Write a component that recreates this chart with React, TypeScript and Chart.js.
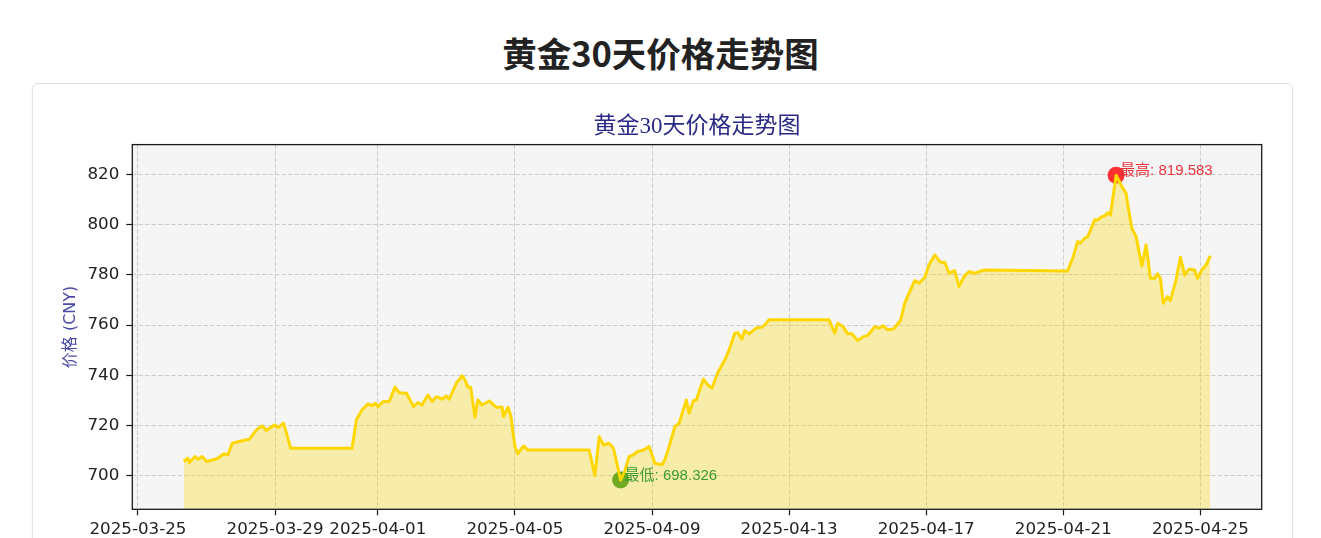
import React, { useEffect, useRef } from 'react';
import { Chart, registerables } from 'chart.js';

Chart.register(...registerables);

const YEAR = '2025';

// hourly samples (UTC)
const times = [
  '03-26 08:00', '03-26 11:00', '03-26 12:00', '03-26 16:00', '03-26 18:00', '03-26 21:00',
  '03-27 00:00', '03-27 05:00', '03-27 08:00', '03-27 12:00', '03-27 15:00', '03-27 18:00', '03-27 23:00',
  '03-28 03:00', '03-28 06:00', '03-28 11:00', '03-28 15:00', '03-28 18:00', '03-28 20:00',
  '03-29 00:00', '03-29 02:00', '03-29 06:00', '03-29 11:00',
  '03-31 06:00', '03-31 09:00', '03-31 13:00', '03-31 17:00', '03-31 20:00', '03-31 22:00',
  '04-01 00:00', '04-01 04:00', '04-01 08:00', '04-01 12:00', '04-01 15:00', '04-01 20:00',
  '04-02 01:00', '04-02 04:00', '04-02 07:00', '04-02 11:00', '04-02 14:00', '04-02 17:00', '04-02 21:00',
  '04-03 00:00', '04-03 02:00', '04-03 07:00', '04-03 11:00', '04-03 13:00', '04-03 15:00', '04-03 17:00',
  '04-03 20:00', '04-03 22:00',
  '04-04 01:00', '04-04 06:00', '04-04 11:00', '04-04 15:00', '04-04 16:00', '04-04 19:00', '04-04 21:00',
  '04-05 00:00', '04-05 02:00', '04-05 06:00', '04-05 09:00',
  '04-07 04:00', '04-07 08:00', '04-07 11:00', '04-07 14:00', '04-07 18:00', '04-07 21:00',
  '04-08 02:00', '04-08 05:00', '04-08 08:00', '04-08 11:00', '04-08 14:00', '04-08 18:00', '04-08 22:00',
  '04-09 02:00', '04-09 07:00', '04-09 09:00', '04-09 12:00', '04-09 16:00', '04-09 19:00',
  '04-10 00:00', '04-10 02:00', '04-10 05:00', '04-10 07:00', '04-10 12:00', '04-10 15:00', '04-10 18:00',
  '04-10 22:00',
  '04-11 03:00', '04-11 06:00', '04-11 10:00', '04-11 12:00', '04-11 15:00', '04-11 17:00', '04-11 20:00',
  '04-12 01:00', '04-12 05:00', '04-12 07:00', '04-12 10:00',
  '04-14 04:00', '04-14 08:00', '04-14 10:00', '04-14 14:00', '04-14 17:00', '04-14 20:00',
  '04-15 00:00', '04-15 04:00', '04-15 07:00', '04-15 12:00', '04-15 15:00', '04-15 18:00', '04-15 21:00',
  '04-16 01:00', '04-16 06:00', '04-16 09:00', '04-16 12:00', '04-16 16:00', '04-16 19:00', '04-16 23:00',
  '04-17 02:00', '04-17 06:00', '04-17 09:00', '04-17 11:00', '04-17 13:00', '04-17 16:00', '04-17 20:00',
  '04-17 23:00',
  '04-18 03:00', '04-18 06:00', '04-18 10:00', '04-18 13:00', '04-18 17:00',
  '04-21 03:00', '04-21 07:00', '04-21 10:00', '04-21 12:00', '04-21 15:00', '04-21 17:00', '04-21 22:00',
  '04-22 00:00', '04-22 03:00', '04-22 05:00', '04-22 07:00', '04-22 09:00', '04-22 13:00', '04-22 15:00',
  '04-22 17:00', '04-22 20:00', '04-22 21:00',
  '04-23 00:00', '04-23 03:00', '04-23 07:00', '04-23 10:00', '04-23 13:00', '04-23 16:00', '04-23 18:00',
  '04-23 20:00', '04-23 22:00',
  '04-24 01:00', '04-24 03:00', '04-24 07:00', '04-24 10:00', '04-24 13:00', '04-24 16:00', '04-24 20:00',
  '04-24 22:00',
  '04-25 01:00', '04-25 04:00', '04-25 07:00',
];

const prices = [
  705.7, 707.0, 705.3, 707.7, 706.6, 707.7,
  705.7, 706.4, 707.0, 708.7, 708.4, 713.0, 713.7,
  714.3, 714.6, 718.3, 719.9, 718.0, 719.0,
  720.3, 719.2, 721.0, 711.0,
  711.0, 722.3, 726.3, 728.6, 727.9, 728.9,
  727.6, 729.6, 729.6, 735.3, 733.1, 732.9,
  727.6, 729.2, 728.2, 732.2, 729.6, 731.5, 730.5,
  731.8, 730.5, 736.9, 739.8, 738.2, 735.3, 735.3,
  723.3, 730.2,
  728.2, 729.8, 727.3, 727.3, 723.6, 727.3, 724.3,
  711.7, 708.8, 711.9, 710.3,
  710.3, 700.1, 715.6, 712.3, 713.0, 711.0,
  698.326, 702.1, 707.7, 708.4, 709.7, 710.3, 711.7,
  705.0, 704.4, 706.4, 711.7, 719.6, 721.0,
  730.2, 724.9, 729.9, 730.2, 738.5, 736.2, 734.9,
  741.0,
  746.1, 750.1, 756.8, 757.0, 754.4, 757.8, 756.5,
  758.8, 759.2, 760.1, 762.1,
  762.1, 756.8, 760.7, 759.2, 756.5, 756.5,
  753.8, 755.4, 755.8, 759.4, 758.8, 759.7, 758.1,
  758.4, 761.8, 768.7, 772.7, 777.7, 776.6, 779.0,
  783.9, 787.9, 785.6, 784.8, 785.0, 780.6, 781.7,
  775.3,
  779.8, 781.3, 780.6, 781.3, 781.9,
  781.5, 787.2, 793.2, 792.6, 794.6, 795.0, 801.8,
  801.8, 803.1, 803.4, 804.7, 803.8, 819.583, 817.4,
  815.1, 812.4, 808.5,
  798.5, 795.2, 783.5, 791.9, 778.6, 778.6, 780.4,
  778.6, 768.7,
  771.3, 769.7, 778.0, 787.0, 780.0, 782.2, 781.9,
  778.6,
  781.9, 783.9, 787.5,
];

const tickDates = [
  '2025-03-25', '2025-03-29', '2025-04-01', '2025-04-05', '2025-04-09',
  '2025-04-13', '2025-04-17', '2025-04-21', '2025-04-25',
];
const yTicks = [700, 720, 740, 760, 780, 800, 820];
const Y_MIN = 686.7;
const Y_MAX = 831.8;

const toMs = (t: string) => Date.parse(`${YEAR}-${t.replace(' ', 'T')}:00Z`);

const TICK_FONT = { family: '"DejaVu Sans", sans-serif', size: 16.7 };

// plot background, min / max markers and the axes frame
const decorPlugin = {
  id: 'decor',
  beforeDraw(chart: any) {
    const { ctx, chartArea: a } = chart;
    ctx.save();
    ctx.fillStyle = '#f5f5f5';
    ctx.fillRect(a.left, a.top, a.right - a.left, a.bottom - a.top);
    ctx.restore();
  },
  beforeDatasetsDraw(chart: any) {
    const { ctx, scales } = chart;
    const hi = prices.indexOf(Math.max(...prices));
    const lo = prices.indexOf(Math.min(...prices));
    const marks = [
      { i: hi, color: 'rgba(255,0,0,0.8)' },
      { i: lo, color: 'rgba(0,128,0,0.8)' },
    ];
    ctx.save();
    marks.forEach(({ i, color }) => {
      const px = scales.x.getPixelForValue(toMs(times[i]));
      const py = scales.y.getPixelForValue(prices[i]);
      ctx.beginPath();
      ctx.arc(px, py, 8.5, 0, Math.PI * 2);
      ctx.fillStyle = color;
      ctx.fill();
    });
    ctx.restore();
  },
  afterDatasetsDraw(chart: any) {
    const { ctx, scales } = chart;
    const hi = prices.indexOf(Math.max(...prices));
    const lo = prices.indexOf(Math.min(...prices));
    const notes = [
      { i: hi, text: `最高: ${prices[hi].toFixed(3)}`, color: '#e8333b' },
      { i: lo, text: `最低: ${prices[lo].toFixed(3)}`, color: '#3d9a2f' },
    ];
    ctx.save();
    ctx.font = '15px "Liberation Sans", "Noto Sans CJK SC", sans-serif';
    ctx.textAlign = 'left';
    ctx.textBaseline = 'alphabetic';
    notes.forEach(({ i, text, color }) => {
      const px = scales.x.getPixelForValue(toMs(times[i]));
      const py = scales.y.getPixelForValue(prices[i]);
      ctx.fillStyle = color;
      ctx.fillText(text, px + 4, py);
    });
    ctx.restore();
  },
  afterDraw(chart: any) {
    const { ctx, chartArea: a } = chart;
    ctx.save();
    ctx.strokeStyle = '#1a1a1a';
    ctx.lineWidth = 1.3;
    ctx.strokeRect(a.left, a.top, a.right - a.left, a.bottom - a.top);
    ctx.restore();
  },
};

const GoldChart: React.FC = () => {
  const canvasRef = useRef<HTMLCanvasElement>(null);

  useEffect(() => {
    if (!canvasRef.current) return;
    const xs = times.map(toMs);
    const span = xs[xs.length - 1] - xs[0];

    const chart = new Chart(canvasRef.current, {
      type: 'line',
      data: {
        datasets: [{
          label: '价格',
          data: xs.map((x, i) => ({ x, y: prices[i] })),
          borderColor: '#FFD700',
          borderWidth: 3,
          borderJoinStyle: 'round',
          backgroundColor: 'rgba(255,215,0,0.3)',
          fill: 'start',
          pointRadius: 0,
          tension: 0,
        }],
      },
      options: {
        animation: false,
        responsive: true,
        maintainAspectRatio: false,
        layout: { padding: { left: 0, right: 30.3, top: 0, bottom: 0 } },
        plugins: {
          legend: { display: false },
          tooltip: { enabled: false },
          title: {
            display: true,
            text: '黄金30天价格走势图',
            fullSize: false,
            color: '#2a2a85',
            font: { family: '"Liberation Serif", "Noto Sans CJK SC", serif', size: 23, weight: 'normal' },
            padding: { top: 29, bottom: 4 },
          },
        },
        scales: {
          x: {
            type: 'linear',
            min: xs[0] - span * 0.05,
            max: xs[xs.length - 1] + span * 0.05,
            afterBuildTicks: (scale: any) => {
              scale.ticks = tickDates.map((d) => ({ value: Date.parse(`${d}T00:00:00Z`) }));
            },
            afterFit: (scale: any) => { scale.height = 44.7; },
            border: { display: false, dash: [4.5, 2] },
            grid: {
              color: '#c2c2c2',
              lineWidth: 0.8,
              tickColor: '#1a1a1a',
              tickLength: 6,
              tickWidth: 1.2,
            },
            ticks: {
              autoSkip: false,
              maxRotation: 0,
              color: '#222',
              font: TICK_FONT,
              padding: 4,
              callback: (v: any) => new Date(Number(v)).toISOString().slice(0, 10),
            },
          },
          y: {
            min: Y_MIN,
            max: Y_MAX,
            afterBuildTicks: (scale: any) => {
              scale.ticks = yTicks.map((v) => ({ value: v }));
            },
            afterFit: (scale: any) => { scale.width = 99.3; },
            border: { display: false, dash: [4.5, 2] },
            grid: {
              color: '#c2c2c2',
              lineWidth: 0.8,
              tickColor: '#1a1a1a',
              tickLength: 6,
              tickWidth: 1.2,
            },
            ticks: {
              color: '#222',
              font: TICK_FONT,
              padding: 7,
            },
            title: {
              display: true,
              text: '价格 (CNY)',
              color: '#4a4aa5',
              font: { family: '"DejaVu Sans", "Noto Sans CJK SC", sans-serif', size: 16 },
              padding: { top: 28, bottom: 0 },
            },
          },
        },
      },
      plugins: [decorPlugin],
    });

    return () => chart.destroy();
  }, []);

  return (
    <div style={{ position: 'relative', width: 1259, height: 470 }}>
      <canvas ref={canvasRef} />
    </div>
  );
};

export default function App() {
  return (
    <div style={{ position: 'relative', width: 1305, height: 530, overflow: 'hidden' }}>
      <div
        style={{
          position: 'absolute',
          top: 22,
          left: 0,
          width: '100%',
          textAlign: 'center',
          font: '700 34.5px/44px "Noto Sans CJK SC", sans-serif',
          color: '#222',
        }}
      >
        黄金30天价格走势图
      </div>
      <div
        style={{
          position: 'absolute',
          left: 24,
          top: 75,
          width: 1259,
          height: 470,
          border: '1px solid #e2e2e2',
          borderRadius: 6,
          background: '#fff',
          boxShadow: '0 1px 3px rgba(0,0,0,0.05)',
        }}
      >
        <GoldChart />
      </div>
    </div>
  );
}
